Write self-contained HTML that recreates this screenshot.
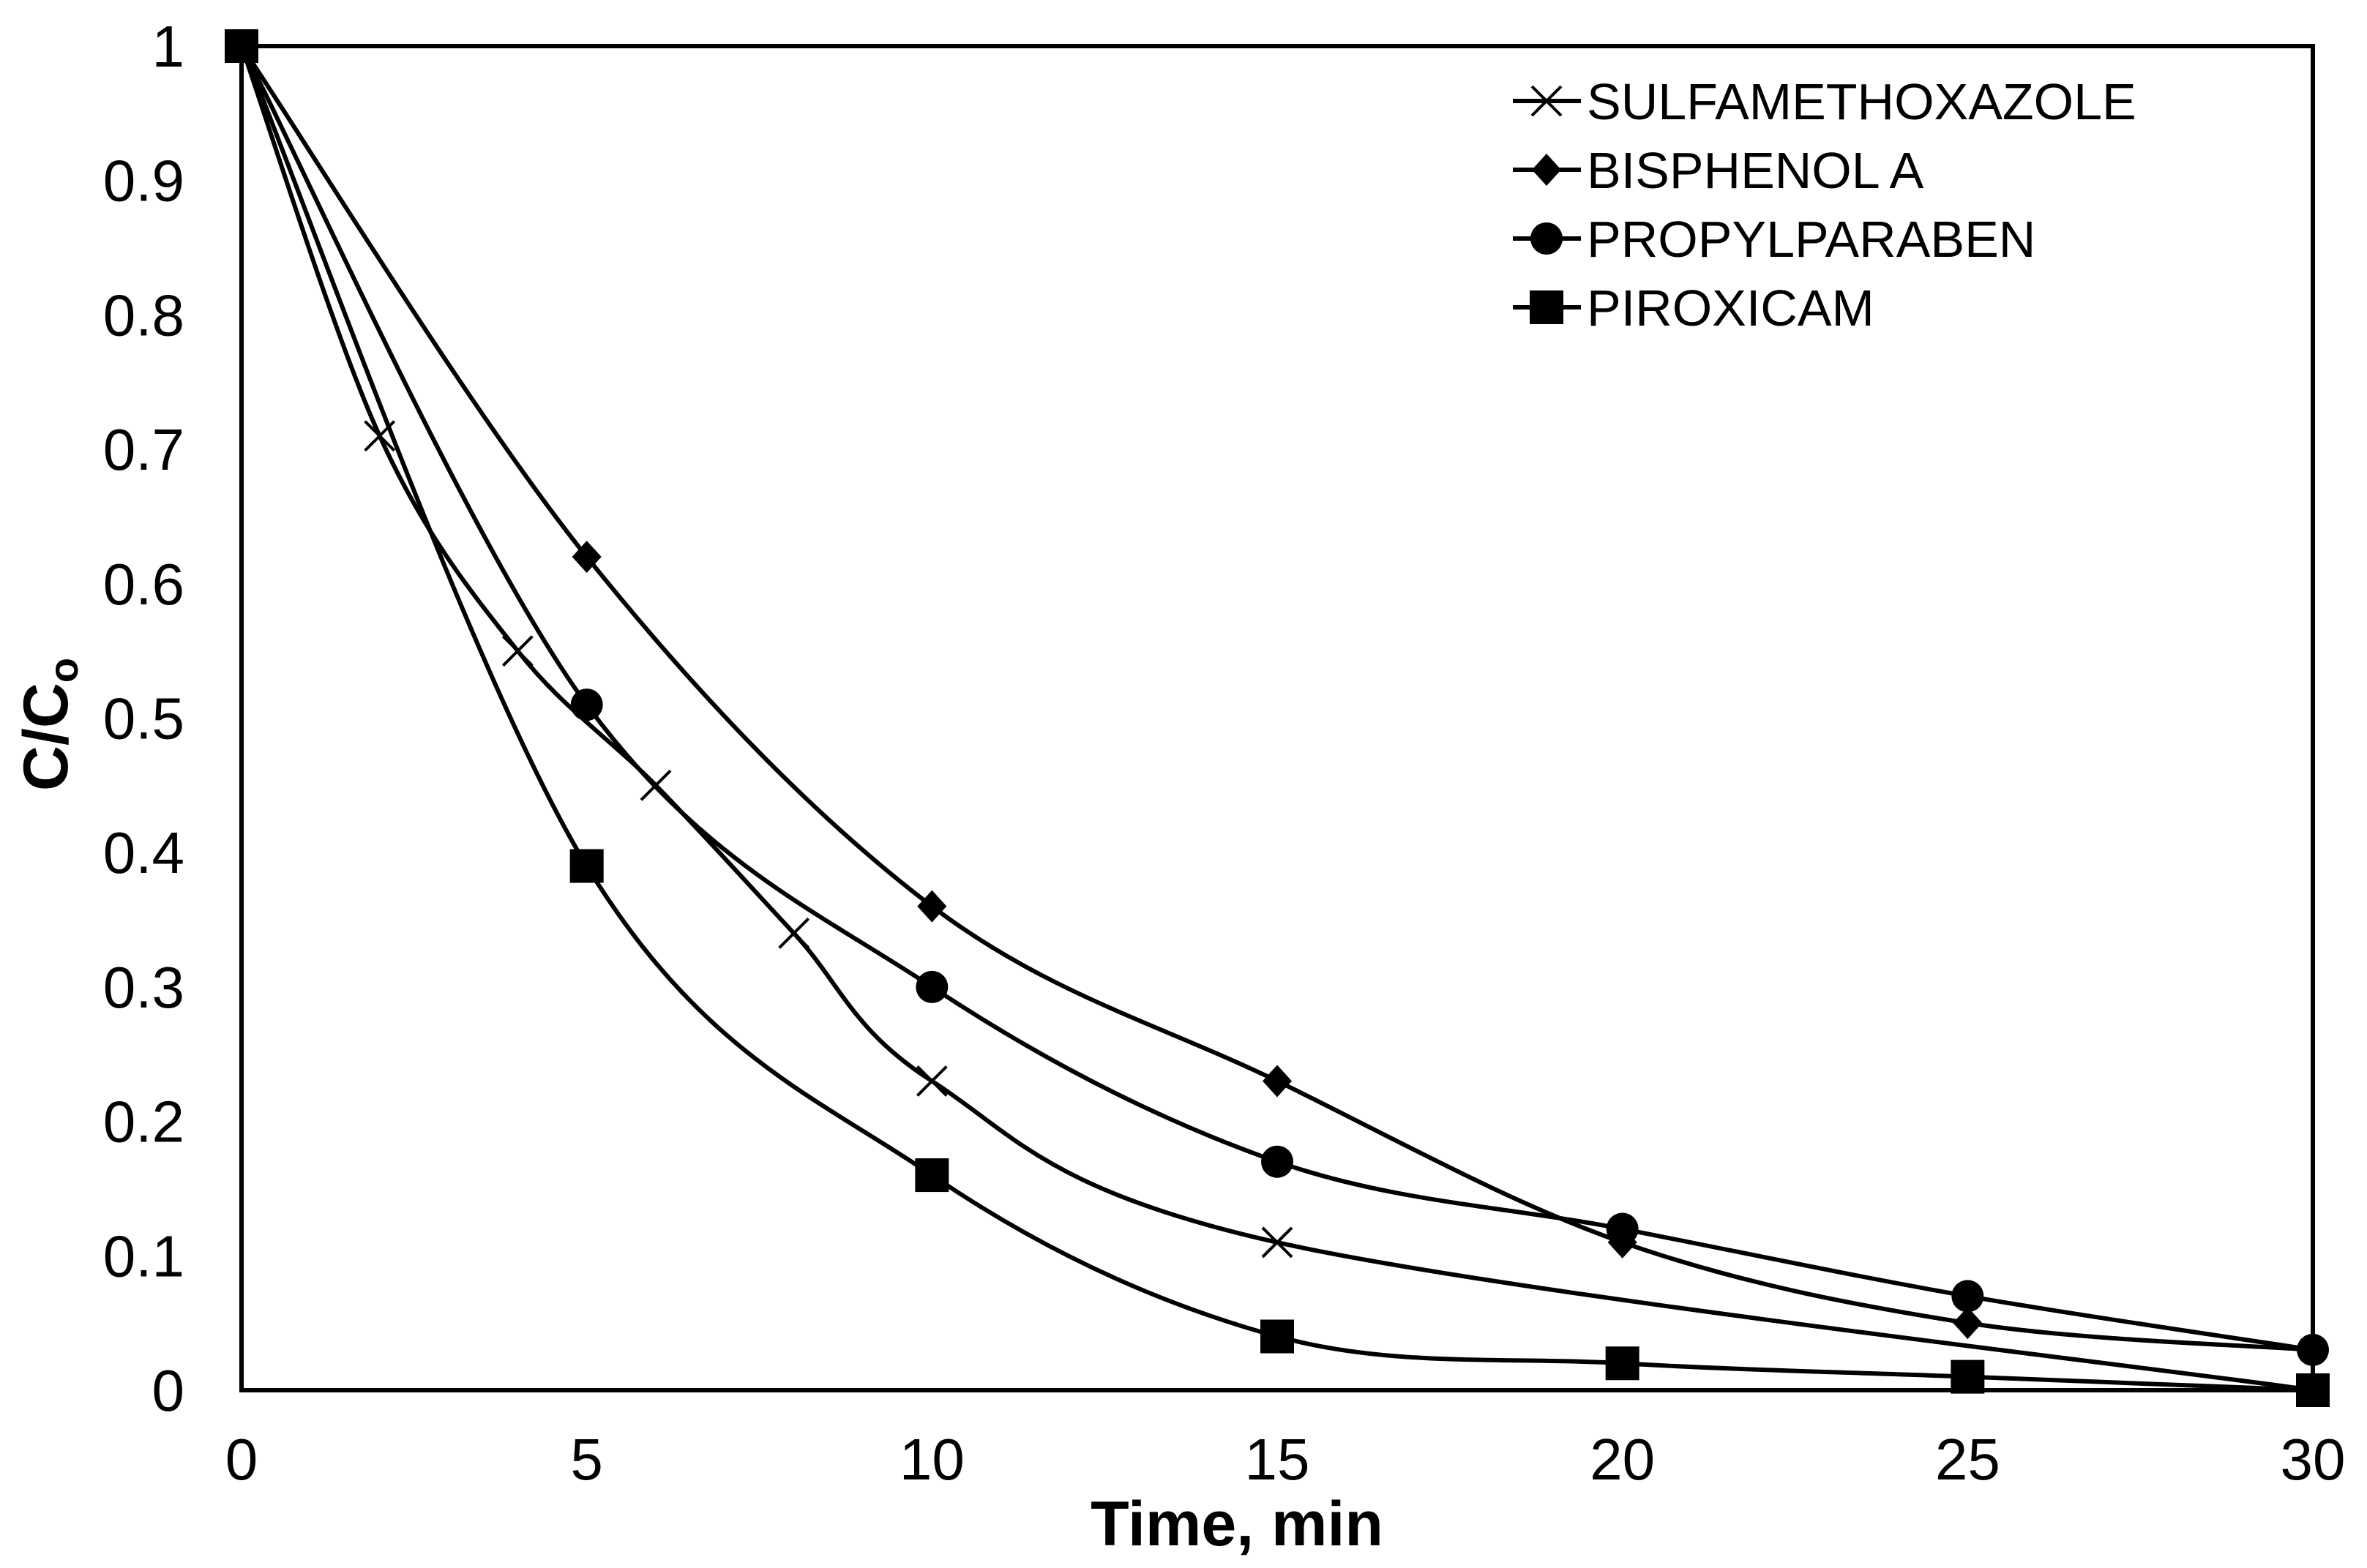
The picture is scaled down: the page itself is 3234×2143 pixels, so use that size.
<!DOCTYPE html>
<html><head><meta charset="utf-8"><style>
html,body{margin:0;padding:0;background:#fff;}
svg{display:block;font-family:"Liberation Sans",Arial,sans-serif;}
</style></head>
<body>
<svg id="chart" width="3234" height="2143" viewBox="0 0 3234 2143" xmlns="http://www.w3.org/2000/svg">
<rect x="0" y="0" width="3234" height="2143" fill="#fff"/>
<g id="plot"></g>
</svg>
<script>
const xTicks = [0,5,10,15,20,25,30];
const yTicks = [0,0.1,0.2,0.3,0.4,0.5,0.6,0.7,0.8,0.9,1];
const yTickLabels = ["0","0.1","0.2","0.3","0.4","0.5","0.6","0.7","0.8","0.9","1"];
const seriesNames = ["SULFAMETHOXAZOLE","BISPHENOL A","PROPYLPARABEN","PIROXICAM"];
const smxX = [0,2,4,6,8,10,15,30];
const smxY = [1,0.71,0.55,0.45,0.34,0.23,0.11,0];
const bpaX = [0,5,10,15,20,25,30];
const bpaY = [1,0.62,0.36,0.23,0.11,0.05,0.03];
const ppbX = [0,5,10,15,20,25,30];
const ppbY = [1,0.51,0.30,0.17,0.12,0.07,0.03];
const pxcX = [0,5,10,15,20,25,30];
const pxcY = [1,0.39,0.16,0.04,0.02,0.01,0];

const L=330,R=3160,T=63,B=1900;
const sx=v=>L+(v-0)/(30-0)*(R-L);
const sy=v=>B-(v-0)/(1-0)*(B-T);
const NS="http://www.w3.org/2000/svg";
const g=document.getElementById('plot');
function mk(tag,attrs,parent){const e=document.createElementNS(NS,tag);for(const k in attrs)e.setAttribute(k,attrs[k]);(parent||g).appendChild(e);return e;}

const frame=mk('rect',{x:L,y:T,width:R-L,height:B-T,fill:'none',stroke:'#000','stroke-width':6});



yTicks.forEach((v,i)=>{
  const t=mk('text',{x:252,y:sy(v)+28,'text-anchor':'end','font-size':80,fill:'#000'});
  t.textContent=yTickLabels[i];
  
  
});
xTicks.forEach(v=>{
  const t=mk('text',{x:sx(v),y:2022,'text-anchor':'middle','font-size':80,fill:'#000'});
  t.textContent=String(v);
  
  
});
const xt=mk('text',{x:1690,y:2112,'text-anchor':'middle','font-size':86,'font-weight':'bold',fill:'#000'});
xt.textContent='Time, min';


const yt=mk('text',{x:0,y:0,'text-anchor':'middle','font-size':86,'font-weight':'bold',fill:'#000',transform:'translate(92,990) rotate(-90)'});
yt.innerHTML='C/C<tspan font-size="56" dy="14">o</tspan>';



function smoothPath(xs,ys){
  const p=xs.map((x,i)=>[sx(x),sy(ys[i])]);
  let d='M'+p[0][0]+','+p[0][1];
  const t=1/6;
  for(let i=0;i<p.length-1;i++){
    const p0=p[i-1]||p[i],p1=p[i],p2=p[i+1],p3=p[i+2]||p[i+1];
    const c1=[p1[0]+(p2[0]-p0[0])*t,p1[1]+(p2[1]-p0[1])*t];
    const c2=[p2[0]-(p3[0]-p1[0])*t,p2[1]-(p3[1]-p1[1])*t];
    d+=` C${c1[0]},${c1[1]} ${c2[0]},${c2[1]} ${p2[0]},${p2[1]}`;
  }
  return d;
}
function marker(type,cx,cy,parent){
  let e;
  if(type==='x'){e=mk('path',{d:`M${cx-20},${cy-20}L${cx+20},${cy+20}M${cx-20},${cy+20}L${cx+20},${cy-20}`,stroke:'#000','stroke-width':4,fill:'none'},parent);}
  else if(type==='diamond'){e=mk('path',{d:`M${cx},${cy-22}L${cx+20},${cy}L${cx},${cy+22}L${cx-20},${cy}Z`,fill:'#000'},parent);}
  else if(type==='circle'){e=mk('circle',{cx:cx,cy:cy,r:22,fill:'#000'},parent);}
  else {e=mk('rect',{x:cx-23,y:cy-23,width:46,height:46,fill:'#000'},parent);}
  return e;
}
const series=[[smxX,smxY,'x','sulfamethoxazole'],[bpaX,bpaY,'diamond','bisphenol-a'],[ppbX,ppbY,'circle','propylparaben'],[pxcX,pxcY,'square','piroxicam']];
series.forEach(([xs,ys,m,name])=>{
  const sg=mk('g',{});
  
  
  const path=mk('path',{d:smoothPath(xs,ys),fill:'none',stroke:'#000','stroke-width':6},sg);
  
  
  xs.forEach((x,i)=>{
    const e=marker(m,sx(x),sy(ys[i]),sg);
    
    
  });
});
const lg=mk('g',{});


const types=['x','diamond','circle','square'];
seriesNames.forEach((n,i)=>{
  const cy=138+i*94;
  const eg=mk('g',{},lg);
  
  
  mk('line',{x1:2067,y1:cy,x2:2160,y2:cy,stroke:'#000','stroke-width':6},eg);
  marker(types[i],2113,cy,eg);
  const t=mk('text',{x:2168,y:cy+25,'font-size':70,fill:'#000'},eg);
  t.textContent=n;
});
</script>
</body></html>
